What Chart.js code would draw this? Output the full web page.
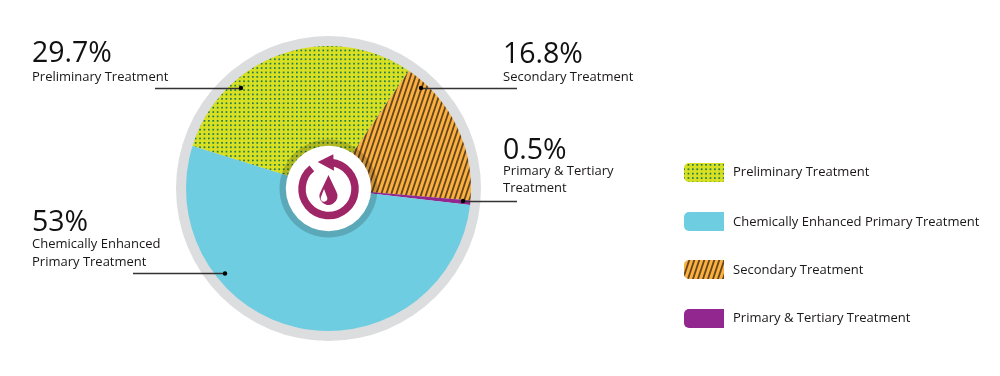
<!DOCTYPE html>
<html>
<head>
<meta charset="utf-8">
<script src="https://cdn.jsdelivr.net/npm/chart.js@4"></script>
<style>
  html, body { margin: 0; padding: 0; background: #fff; }
  #wrap { position: relative; width: 1000px; height: 376px; overflow: hidden; font-family: "Open Sans", sans-serif; color: #1a1718; }
  #pie { position: absolute; left: 0; top: 0; }
  .pct { position: absolute; font-size: 28.5px; line-height: 30px; white-space: nowrap; color: #111; }
  .lbl { position: absolute; font-size: 13px; line-height: 16px; white-space: nowrap; }
</style>
</head>
<body>
<div id="wrap">
  <canvas id="pie" width="1000" height="376"></canvas>
</div>
<script>
// slices in drawing order, clockwise
const categories = ['Preliminary Treatment', 'Secondary Treatment', 'Primary & Tertiary Treatment', 'Chemically Enhanced Primary Treatment'];
const shares = [29.7, 16.8, 0.5, 53];
const legendOrder = [0, 3, 1, 2];

// left, top of each callout, and its wrapped label
const calloutLabels = [
    ['Preliminary Treatment'],
    ['Secondary Treatment'],
    ['Primary & Tertiary', 'Treatment'],
    ['Chemically Enhanced', 'Primary Treatment']
];
const calloutPos = [[32, 36], [503, 37], [503, 133], [32, 205]];
const labelTop = [68, 68, 162, 235];
const labelStep = [18, 18, 17, 18];
// x1, x2, y of the leader lines, dot sits at x2
const leaders = [[155, 241, 88], [517, 421, 88], [517, 463, 201], [133, 225, 273.5]];
const legendRowY = [163, 212, 260, 309];
const legendTextY = [163, 213, 261, 309];

const centerX = 328.5;
const centerY = 188.5;

function dotPattern() {
    // 5 periods of a 4.4px grid, so the tile is a whole number of pixels
    const c = document.createElement('canvas');
    c.width = 22;
    c.height = 22;
    const g = c.getContext('2d');
    g.fillStyle = '#d9e021';
    g.fillRect(0, 0, 22, 22);
    g.fillStyle = '#1c7a58';
    for (let i = 0; i < 5; i++) {
        for (let j = 0; j < 5; j++) {
            g.fillRect(i * 4.4 + 1.2, j * 4.4 + 1.2, 1.7, 1.7);
        }
    }
    return c;
}

function stripePattern() {
    const c = document.createElement('canvas');
    c.width = 5;
    c.height = 15;
    const g = c.getContext('2d');
    g.fillStyle = '#fbb040';
    g.fillRect(0, 0, 5, 15);
    g.fillStyle = '#64461f';
    // three copies so the slanted stripe wraps on the tile edges
    for (let i = -1; i <= 1; i++) {
        g.beginPath();
        g.moveTo(i * 5 + 5, 0);
        g.lineTo(i * 5 + 6.9, 0);
        g.lineTo(i * 5 + 1.9, 15);
        g.lineTo(i * 5, 15);
        g.closePath();
        g.fill();
    }
    return c;
}

const ctx = document.getElementById('pie').getContext('2d');
const sliceColors = [
    ctx.createPattern(dotPattern(), 'repeat'),
    ctx.createPattern(stripePattern(), 'repeat'),
    '#92278f',
    '#6fcde1'
];

function drawIcon(g) {
    const cx = centerX, cy = 189;
    g.strokeStyle = '#9e2566';
    g.fillStyle = '#9e2566';
    g.lineWidth = 7.5;
    g.beginPath();
    g.arc(cx, cy, 26.5, -85 * Math.PI / 180, 231 * Math.PI / 180);
    g.stroke();
    // arrow head
    g.beginPath();
    g.moveTo(317.7, 162);
    g.lineTo(333.3, 154.3);
    g.lineTo(334, 170.7);
    g.closePath();
    g.fill();
    // drop
    g.beginPath();
    g.arc(cx, 196, 9, -30 * Math.PI / 180, 210 * Math.PI / 180);
    g.lineTo(cx, 175);
    g.closePath();
    g.fill();
    g.fillStyle = '#fff';
    g.beginPath();
    g.arc(324, 198.4, 3.3, -15 * Math.PI / 180, 195 * Math.PI / 180);
    g.lineTo(324, 189);
    g.closePath();
    g.fill();
}

const decorations = {
    id: 'decorations',
    beforeDatasetsDraw(chart) {
        const g = chart.ctx;
        const arc = chart.getDatasetMeta(0).data[0];
        g.save();
        g.fillStyle = '#dcddde';
        g.beginPath();
        g.arc(arc.x, arc.y, arc.outerRadius + 10, 0, Math.PI * 2);
        g.fill();
        g.restore();
    },
    afterDatasetsDraw(chart) {
        const g = chart.ctx;
        const arc = chart.getDatasetMeta(0).data[0];
        g.save();
        g.fillStyle = 'rgba(0, 0, 0, 0.18)';
        g.beginPath();
        g.arc(arc.x, arc.y, 49, 0, Math.PI * 2);
        g.fill();
        g.fillStyle = '#fff';
        g.beginPath();
        g.arc(arc.x, arc.y, 42.7, 0, Math.PI * 2);
        g.fill();
        drawIcon(g);

        // leader lines
        leaders.forEach(l => {
            g.strokeStyle = '#333';
            g.lineWidth = 1.4;
            g.beginPath();
            g.moveTo(l[0], Math.floor(l[2]) + 0.5);
            g.lineTo(l[1], Math.floor(l[2]) + 0.5);
            g.stroke();
            g.fillStyle = '#000';
            g.beginPath();
            g.arc(l[1], l[2], 2.2, 0, Math.PI * 2);
            g.fill();
        });

        // legend swatches
        legendOrder.forEach((idx, row) => {
            g.fillStyle = sliceColors[idx];
            g.beginPath();
            g.roundRect(684, legendRowY[row], 40, 19, [5, 0, 0, 5]);
            g.fill();
        });
        g.restore();
    }
};

new Chart(ctx, {
    type: 'pie',
    data: {
        labels: categories,
        datasets: [{
            data: shares,
            backgroundColor: sliceColors,
            borderWidth: 0,
            radius: 142.5,
            rotation: -72.6
        }]
    },
    options: {
        responsive: false,
        animation: false,
        layout: { padding: { left: 0, right: 343, top: 1, bottom: 0 } },
        plugins: { legend: { display: false }, tooltip: { enabled: false } }
    },
    plugins: [decorations]
});

// real text for callouts and legend
const wrap = document.getElementById('wrap');
function addText(cls, x, y, text) {
    const el = document.createElement('div');
    el.className = cls;
    el.style.left = x + 'px';
    el.style.top = y + 'px';
    el.textContent = text;
    wrap.appendChild(el);
}
categories.forEach((name, i) => {
    const [x, y] = calloutPos[i];
    addText('pct', x, y, shares[i] + '%');
    calloutLabels[i].forEach((line, k) => addText('lbl', x, labelTop[i] + k * labelStep[i], line));
});
legendOrder.forEach((idx, row) => {
    addText('lbl', 733, legendTextY[row], categories[idx]);
});
</script>
</body>
</html>
